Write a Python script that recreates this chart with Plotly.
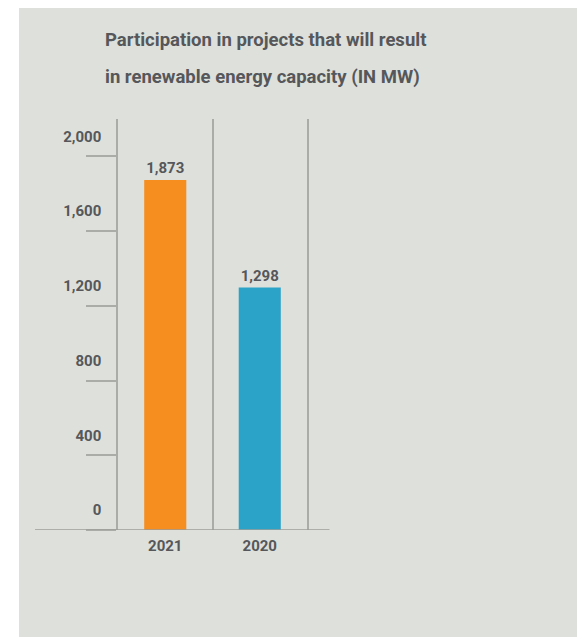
import plotly.graph_objects as go

# Data: renewable energy capacity from project participation (MW)
years = ["2021", "2020"]
capacity_mw = [1873, 1298]
bar_colors = ["#f58d1f", "#2ba3c8"]
y_ticks = [0, 400, 800, 1200, 1600, 2000]
y_tick_labels = ["0", "400", "800", "1,200", "1,600", "2,000"]
title_lines = [
    "Participation in projects that will result",
    "in renewable energy capacity (IN MW)",
]

PANEL = "#dee0db"
TEXT = "#55575a"
LINE = "#aaaca7"
FONT = "Roboto, sans-serif"

W, H = 577, 637
L, R, T, B = 118, 270, 119, 107
plot_w = W - L - R
plot_h = H - T - B


def px_to_paper_x(px):
    return (px - L) / plot_w


def px_to_paper_y(py):
    return (H - B - py) / plot_h


fig = go.Figure(
    go.Bar(
        x=years,
        y=capacity_mw,
        marker=dict(color=bar_colors, line=dict(width=0)),
        width=0.445,
        texttemplate="%{y:,}",
        textposition="outside",
        textfont=dict(family=FONT, size=15, color=TEXT, weight="bold"),
        cliponaxis=False,
        hoverinfo="skip",
    )
)

# light grey card behind the chart
fig.add_shape(
    type="rect", xref="paper", yref="paper",
    x0=px_to_paper_x(19), x1=px_to_paper_x(W + 5),
    y0=px_to_paper_y(H + 5), y1=px_to_paper_y(8),
    fillcolor=PANEL, line=dict(width=0), layer="below",
)

# baseline running past the value axis
fig.add_shape(
    type="line", xref="paper", yref="y",
    x0=px_to_paper_x(35), x1=px_to_paper_x(329.5),
    y0=0, y1=0,
    line=dict(color="#9c9e99", width=1.5),
)

for i, line in enumerate(title_lines):
    fig.add_annotation(
        text=line, xref="paper", yref="paper",
        x=px_to_paper_x(103), y=px_to_paper_y(40 + i * 36.7),
        xanchor="left", yanchor="middle", showarrow=False,
        font=dict(family=FONT, size=18.5, color=TEXT, weight="bold"),
    )

fig.update_layout(
    width=W, height=H,
    margin=dict(l=L, r=R, t=T, b=B, pad=0),
    paper_bgcolor="white",
    plot_bgcolor="rgba(0,0,0,0)",
    showlegend=False,
    bargap=0.555,
    xaxis=dict(
        type="category",
        range=[-0.5, 1.5],
        tickson="boundaries",
        showgrid=True, gridcolor=LINE, gridwidth=1.5,
        ticks="", showline=False, zeroline=False,
        ticklabelstandoff=5,
        tickfont=dict(family=FONT, size=15, color=TEXT, weight="bold"),
        fixedrange=True,
    ),
    yaxis=dict(
        range=[0, 2200],
        tickvals=y_ticks, ticktext=y_tick_labels,
        ticks="outside", ticklen=30, tickcolor=LINE, tickwidth=1.5,
        showgrid=False, zeroline=False,
        showline=True, mirror=True, linecolor=LINE, linewidth=1.5,
        ticklabelshift=-20, ticklabelstandoff=-18,
        tickfont=dict(family=FONT, size=15, color=TEXT, weight="bold"),
        fixedrange=True,
    ),
)

fig.write_html("out.html")
